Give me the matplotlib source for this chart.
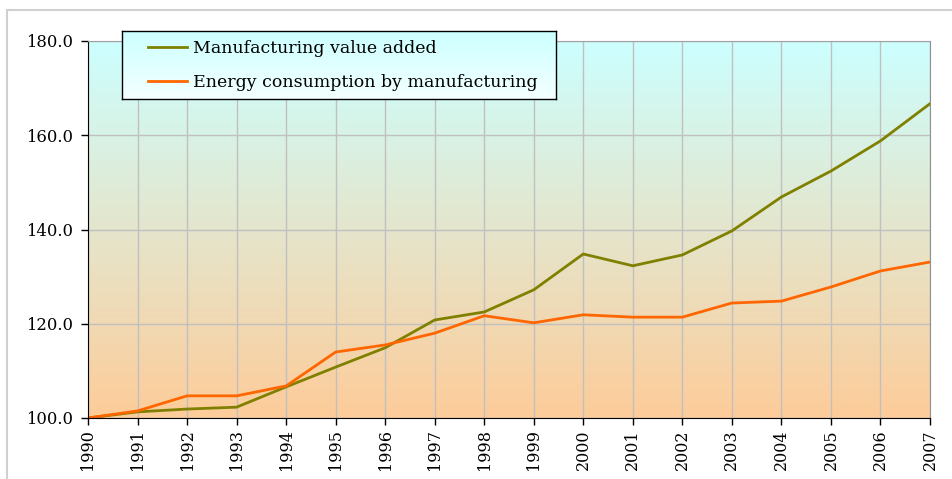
import numpy as np
import matplotlib
matplotlib.use("Agg")
import matplotlib.pyplot as plt
from matplotlib.patches import Rectangle
from matplotlib.colors import LinearSegmentedColormap
from matplotlib.lines import Line2D

years = list(range(1990, 2008))
manufacturing = [100.0, 101.3, 101.9, 102.3, 106.6, 110.8, 114.9, 120.8, 122.5, 127.2,
                 134.8, 132.3, 134.6, 139.7, 146.9, 152.4, 158.8, 166.7]
energy = [100.0, 101.5, 104.7, 104.7, 106.8, 114.0, 115.5, 118.0, 121.7, 120.2,
          121.9, 121.4, 121.4, 124.4, 124.8, 127.8, 131.2, 133.1]
yticks = [100.0, 120.0, 140.0, 160.0, 180.0]
labels = ['Manufacturing value added', 'Energy consumption by manufacturing']
colors = ['#808000', '#ff6600']

plt.rcParams['font.family'] = ['DejaVu Serif']

W, H = 952, 479
fig = plt.figure(figsize=(W / 100, H / 100), dpi=100)
fig.patches.append(Rectangle((7 / W, -0.05), 1.0, 1 - 10 / H + 0.05, transform=fig.transFigure,
                             fill=False, edgecolor='#d0d0d0', linewidth=1.5))
ax = fig.add_axes([88 / W, 1 - 418 / H, (930 - 88) / W, (418 - 41) / H])

cmap = LinearSegmentedColormap.from_list('bg', ['#fdcc99', '#ccffff'])
grad = np.linspace(0, 1, 256).reshape(-1, 1)
ax.imshow(grad, aspect='auto', cmap=cmap, origin='lower',
          extent=[years[0], years[-1], 100, 180], zorder=0)

ax.plot(years, manufacturing, color=colors[0], linewidth=2.0, zorder=3)
ax.plot(years, energy, color=colors[1], linewidth=2.0, zorder=3)

ax.set_xlim(years[0], years[-1])
ax.set_ylim(100, 180)
ax.set_xticks(years)
ax.set_xticklabels([str(y) for y in years], rotation=90, fontsize=11.5)
ax.set_yticks(yticks)
ax.set_yticklabels([f"{v:.1f}" for v in yticks], fontsize=11.8)
ax.grid(True, color='#c0c0c0', linewidth=1.0, zorder=1)
for line in ax.get_xgridlines() + ax.get_ygridlines():
    line.set_zorder(1)
ax.spines['top'].set_color('#a0a0a0')
ax.spines['right'].set_color('#909090')
ax.spines['left'].set_color('black')
ax.spines['bottom'].set_color('black')
for s in ax.spines.values():
    s.set_zorder(4)
ax.tick_params(axis='both', direction='out', length=5, color='black', width=1)
ax.tick_params(axis='y', pad=6)
ax.tick_params(axis='x', pad=3)

# legend box with gradient
lx0, lx1, ly0, ly1 = 122, 556, 31, 99
lax = fig.add_axes([lx0 / W, 1 - ly1 / H, (lx1 - lx0) / W, (ly1 - ly0) / H])
lcmap = LinearSegmentedColormap.from_list('lg', ['#f4ffff', '#ccffff'])
lax.imshow(grad, aspect='auto', cmap=lcmap, origin='lower', extent=[0, 1, 0, 1], zorder=0)
lax.set_xlim(0, 1)
lax.set_ylim(0, 1)
lax.set_xticks([])
lax.set_yticks([])
for s in lax.spines.values():
    s.set_color('black')
    s.set_linewidth(1.0)
handles = [Line2D([], [], color=c, linewidth=2.0) for c in colors]
leg = lax.legend(handles, labels, loc='upper left', bbox_to_anchor=(0.045, 0.975), fontsize=12.5,
                 frameon=False, handlelength=2.2, labelspacing=0.98, handletextpad=0.35,
                 borderaxespad=0)

fig.savefig('out.png', dpi=100)
